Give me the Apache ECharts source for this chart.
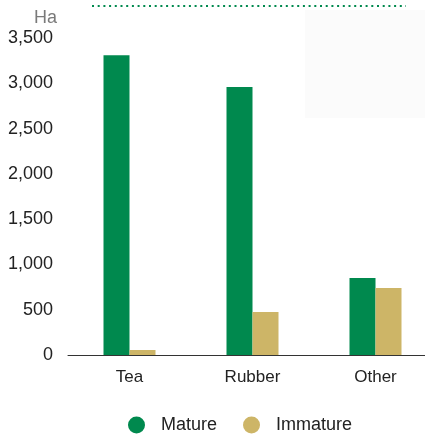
<!DOCTYPE html>
<html><head><meta charset="utf-8">
<script src="https://cdn.jsdelivr.net/npm/echarts@6/dist/echarts.min.js"></script>
<style>html,body{margin:0;padding:0;background:#fff;overflow:hidden}#c{width:440px;height:435px}</style>
</head><body><div id="c"></div>
<script>
const categories = ['Tea', 'Rubber', 'Other'];
const matureValues = [3310, 2960, 850];
const immatureValues = [55, 475, 740];
const seriesNames = ['Mature', 'Immature'];
const unitLabel = 'Ha';

const chart = echarts.init(document.getElementById('c'));
const font = 'Liberation Sans, Arial, sans-serif';
chart.setOption({
  animation: false,
  backgroundColor: '#fff',
  graphic: [
    { type: 'rect', shape: { x: 305, y: 10, width: 135, height: 108 }, style: { fill: '#fbfbfb' }, z: -10 },
    { type: 'line', shape: { x1: 92, y1: 6, x2: 406, y2: 6 }, style: { stroke: '#00894E', lineWidth: 2, lineDash: [2, 3.7] } },
    { type: 'text', left: 34, top: 9, style: { text: unitLabel, fill: '#7a7a7a', font: '18px ' + font } }
  ],
  grid: { left: 68, right: 3, top: 38, height: 317 },
  legend: {
    data: seriesNames,
    left: 128, top: 416, padding: 0,
    icon: 'circle', itemWidth: 17, itemHeight: 17, itemGap: 26,
    textStyle: { fontSize: 18, color: '#222', fontFamily: font, padding: [0, 0, 0, 11] }
  },
  xAxis: {
    type: 'category', data: categories,
    axisLine: { lineStyle: { color: '#333', width: 1 } },
    axisTick: { show: false },
    axisLabel: { fontSize: 17, color: '#222', fontFamily: font, margin: 14 }
  },
  yAxis: {
    type: 'value', min: 0, max: 3500, interval: 500,
    splitLine: { show: false },
    axisLine: { show: false }, axisTick: { show: false },
    axisLabel: { fontSize: 18, color: '#222', fontFamily: font, margin: 15,
      formatter: v => v.toLocaleString('en-US') }
  },
  series: [
    { name: seriesNames[0], type: 'bar', data: matureValues, barWidth: 26, barGap: '0%', itemStyle: { color: '#00894E' } },
    { name: seriesNames[1], type: 'bar', data: immatureValues, barWidth: 26, itemStyle: { color: '#CDB567' } }
  ]
});
</script></body></html>
